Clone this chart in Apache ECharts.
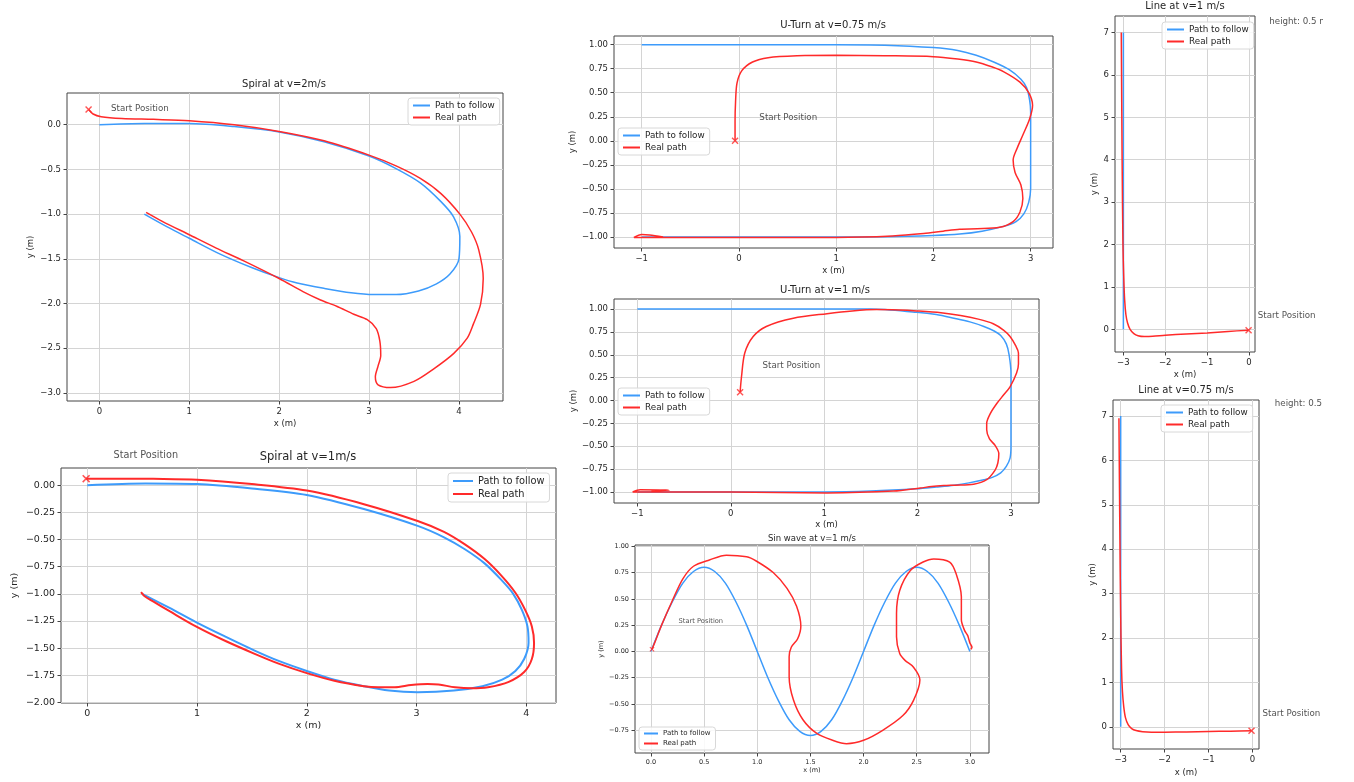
<!DOCTYPE html>
<html>
<head>
<meta charset="utf-8">
<title>Path following tests</title>
<script src="https://cdn.jsdelivr.net/npm/echarts@6/dist/echarts.min.js"></script>
<style>
  html, body { margin: 0; padding: 0; background: #fff; }
  #chart { width: 1323px; height: 782px; }
</style>
</head>
<body>
<div id="chart"></div>
<script>
// paths, [x, y] in metres

// spiral at v=2m/s
var spiral2Path = [[0,0],[0.5,0.015],[1,0.015],[1.5,-0.02],[2,-0.08],[2.5,-0.19],[3,-0.35],[3.3,-0.49],[3.57,-0.65],
    [3.8,-0.86],[3.94,-1.03],[4.01,-1.25],[4.0,-1.5],[3.9,-1.67],[3.75,-1.78],[3.55,-1.86],[3.3,-1.9],[3.05,-1.9],
    [2.8,-1.88],[2.5,-1.83],[2.2,-1.77],[2.0,-1.71],[1.7,-1.6],[1.35,-1.45],[1.0,-1.27],[0.75,-1.14],[0.5,-1.0]];
var spiral2Real = [[-0.12,0.17],[-0.07,0.12],[0.02,0.09],[0.25,0.07],[0.6,0.06],[1,0.045],[1.5,0.0],[2,-0.075],
    [2.5,-0.18],[3,-0.34],[3.3,-0.46],[3.57,-0.6],[3.8,-0.77],[4.01,-1.0],[4.14,-1.2],[4.22,-1.4],[4.27,-1.72],
    [4.24,-2.01],[4.16,-2.23],[4.09,-2.39],[3.94,-2.56],[3.72,-2.73],[3.5,-2.87],[3.24,-2.94],[3.1,-2.91],[3.07,-2.82],
    [3.1,-2.7],[3.13,-2.58],[3.12,-2.42],[3.08,-2.28],[2.98,-2.18],[2.83,-2.12],[2.64,-2.03],[2.46,-1.96],
    [2.27,-1.87],[2.0,-1.72],[1.6,-1.52],[1.3,-1.38],[1.0,-1.23],[0.7,-1.08],[0.52,-0.98]];

// spiral at v=1m/s
var spiral1Path = [[0,0],[0.53,0.015],[1,0.01],[1.5,-0.03],[2,-0.09],[2.52,-0.22],[3.01,-0.375],[3.25,-0.48],
    [3.44,-0.59],[3.62,-0.72],[3.77,-0.87],[3.88,-1.0],[3.96,-1.15],[4.01,-1.3],[4.02,-1.45],[3.98,-1.6],[3.9,-1.71],
    [3.78,-1.79],[3.6,-1.85],[3.34,-1.89],[3.01,-1.905],[2.75,-1.89],[2.52,-1.85],[2.25,-1.79],[2.0,-1.71],
    [1.75,-1.62],[1.52,-1.52],[1.25,-1.39],[0.99,-1.26],[0.75,-1.13],[0.5,-1.0]];
var spiral1Real = [[-0.01,0.06],[0.3,0.06],[0.6,0.058],[1,0.05],[1.5,0.01],[2,-0.05],[2.52,-0.175],[3.01,-0.33],
    [3.25,-0.43],[3.44,-0.545],[3.62,-0.68],[3.77,-0.83],[3.9,-0.99],[3.99,-1.15],[4.05,-1.3],[4.07,-1.45],
    [4.05,-1.6],[3.98,-1.72],[3.84,-1.81],[3.65,-1.86],[3.5,-1.87],[3.35,-1.86],[3.2,-1.835],[3.1,-1.83],
    [2.95,-1.84],[2.8,-1.86],[2.65,-1.86],[2.52,-1.85],[2.25,-1.8],[2.0,-1.73],[1.75,-1.645],[1.52,-1.55],
    [1.25,-1.43],[0.99,-1.3],[0.75,-1.16],[0.6,-1.07],[0.52,-1.02],[0.49,-0.985]];

// u-turn at v=0.75 m/s
var uturn075Path = [[-1,1],[0,1],[1,1],[1.5,0.995],[2.0,0.97],[2.25,0.94],[2.44,0.89],[2.62,0.82],[2.78,0.74],
    [2.9,0.64],[2.96,0.55],[2.99,0.42],[3.0,0.3],[3.0,0],[3.0,-0.3],[3.0,-0.5],[2.98,-0.64],[2.93,-0.76],
    [2.85,-0.84],[2.72,-0.89],[2.5,-0.94],[2.27,-0.97],[2.0,-0.985],[1.5,-0.998],[1,-1],[0,-1],[-1,-1]];
var uturn075Real = [[-0.04,0],[-0.04,0.2],[-0.035,0.4],[-0.02,0.6],[0.03,0.73],[0.14,0.82],[0.3,0.865],[0.6,0.885],
    [1.0,0.89],[1.5,0.885],[2.0,0.875],[2.25,0.85],[2.44,0.82],[2.6,0.77],[2.72,0.72],[2.89,0.61],[2.98,0.5],
    [3.02,0.37],[2.99,0.23],[2.92,0.06],[2.86,-0.08],[2.82,-0.2],[2.84,-0.33],[2.9,-0.46],[2.92,-0.6],[2.89,-0.74],
    [2.82,-0.84],[2.68,-0.9],[2.45,-0.915],[2.27,-0.92],[2.1,-0.94],[1.9,-0.965],[1.58,-0.99],[1.0,-1.005],
    [0,-1.005],[-0.8,-1.005],[-1.08,-1.005],[-1.0,-0.975],[-0.92,-0.98],[-0.78,-1.0]];

// u-turn at v=1 m/s
var uturn1Path = [[-1,1],[0,1],[1,1],[1.5,1.0],[1.99,0.965],[2.2,0.94],[2.39,0.9],[2.56,0.86],[2.71,0.81],
    [2.82,0.76],[2.89,0.71],[2.95,0.62],[2.98,0.5],[3.0,0.3],[3.0,-0.5],[2.99,-0.63],[2.95,-0.72],[2.89,-0.79],
    [2.8,-0.84],[2.71,-0.865],[2.55,-0.9],[2.39,-0.925],[2.2,-0.945],[1.99,-0.965],[1.5,-0.99],[1,-1],[-1,-1]];
var uturn1Real = [[0.1,0.09],[0.115,0.26],[0.15,0.52],[0.24,0.7],[0.38,0.81],[0.67,0.9],[1.03,0.95],[1.3,0.98],
    [1.56,0.995],[1.8,0.99],[1.99,0.98],[2.25,0.96],[2.46,0.93],[2.65,0.89],[2.81,0.84],[2.92,0.77],[2.99,0.7],
    [3.05,0.6],[3.08,0.52],[3.08,0.4],[3.06,0.3],[2.99,0.15],[2.92,0.06],[2.85,-0.03],[2.78,-0.14],[2.74,-0.25],
    [2.74,-0.32],[2.77,-0.42],[2.83,-0.49],[2.87,-0.58],[2.86,-0.68],[2.83,-0.76],[2.74,-0.865],[2.6,-0.915],
    [2.4,-0.925],[2.28,-0.93],[2.15,-0.94],[2.03,-0.956],[1.74,-0.99],[1.03,-1.01],[0,-1.0],[-1.05,-1.0],
    [-0.97,-0.975],[-0.66,-0.98],[-0.85,-0.985]];

// sin wave at v=1 m/s
var sinPath = [[0,0],[0.1,0.25],[0.2,0.47],[0.3,0.65],[0.4,0.76],[0.5,0.8],[0.6,0.76],[0.7,0.65],[0.8,0.47],
    [0.9,0.25],[1.0,0],[1.1,-0.25],[1.2,-0.47],[1.3,-0.65],[1.4,-0.76],[1.5,-0.8],[1.6,-0.76],[1.7,-0.65],
    [1.8,-0.47],[1.9,-0.25],[2.0,0],[2.1,0.25],[2.2,0.47],[2.3,0.65],[2.4,0.76],[2.5,0.8],[2.6,0.76],[2.7,0.65],
    [2.8,0.47],[2.9,0.25],[3.0,0]];
var sinReal = [[0.01,0.02],[0.05,0.12],[0.1,0.25],[0.2,0.48],[0.3,0.69],[0.4,0.81],[0.55,0.87],[0.71,0.915],
    [0.9,0.9],[0.99,0.86],[1.15,0.75],[1.28,0.6],[1.37,0.43],[1.41,0.24],[1.38,0.12],[1.32,0.04],[1.3,-0.05],
    [1.3,-0.24],[1.34,-0.46],[1.43,-0.65],[1.56,-0.78],[1.71,-0.845],[1.84,-0.877],[2.0,-0.845],[2.18,-0.75],
    [2.37,-0.61],[2.47,-0.465],[2.53,-0.27],[2.47,-0.15],[2.39,-0.085],[2.34,-0.02],[2.31,0.14],[2.31,0.36],
    [2.34,0.58],[2.44,0.77],[2.56,0.85],[2.66,0.88],[2.81,0.85],[2.87,0.74],[2.92,0.52],[2.92,0.3],[2.95,0.2],
    [2.98,0.15],[3.0,0.08],[3.02,0.04],[3.01,0.02]];

// lines at v=1 and v=0.75 m/s
var line1Path = [[-3,0],[-3,7]];
var line1Real = [[-0.01,-0.02],[-0.5,-0.05],[-1,-0.085],[-1.5,-0.11],[-2,-0.14],[-2.3,-0.165],[-2.5,-0.17],
    [-2.65,-0.15],[-2.75,-0.1],[-2.84,0.0],[-2.9,0.15],[-2.94,0.35],[-2.97,0.7],[-2.99,1.2],[-3.01,2],[-3.03,4],
    [-3.05,7.0]];
var line075Path = [[-3,0],[-3,7]];
var line075Real = [[-0.02,-0.09],[-0.5,-0.1],[-1,-0.105],[-1.5,-0.115],[-2,-0.12],[-2.3,-0.12],[-2.5,-0.11],
    [-2.65,-0.085],[-2.75,-0.04],[-2.83,0.05],[-2.89,0.2],[-2.93,0.45],[-2.96,0.8],[-2.98,1.3],[-3.0,2.5],
    [-3.02,4.5],[-3.04,6.95]];

// tick labels
var spiralXTicks = [0, 1, 2, 3, 4];
var spiral2YTicks = [0, -0.5, -1, -1.5, -2, -2.5, -3];
var spiral1YTicks = [0, -0.25, -0.5, -0.75, -1, -1.25, -1.5, -1.75, -2];
var uturnXTicks = [-1, 0, 1, 2, 3];
var uturnYTicks = [1, 0.75, 0.5, 0.25, 0, -0.25, -0.5, -0.75, -1];
var sinXTicks = [0, 0.5, 1, 1.5, 2, 2.5, 3];
var sinYTicks = [1, 0.75, 0.5, 0.25, 0, -0.25, -0.5, -0.75];
var lineXTicks = [-3, -2, -1, 0];
var lineYTicks = [0, 1, 2, 3, 4, 5, 6, 7];

var BLUE = '#3d9bfb';
var RED = '#ff2a2a';
var INK = '#262626';
var FONT = 'DejaVu Sans';
var CROSS = 'path://M0,1.4L1.4,0L5,3.6L8.6,0L10,1.4L6.4,5L10,8.6L8.6,10L5,6.4L1.4,10L0,8.6L3.6,5Z';

var panels = [
    {title: 'Spiral at v=2m/s', tx: 284, ty: 85, tsize: 10, font: 8.5, lw: 1.5, mark: 7,
     grid: {left: 67, top: 93, width: 436, height: 308},
     x: {min: -0.36, max: 4.49, ticks: spiralXTicks, digits: 0, gap: 18},
     y: {min: -3.09, max: 0.355, ticks: spiral2YTicks, digits: 1, gap: 32},
     legend: {left: 408, top: 98, size: 8.8, iw: 17},
     path: spiral2Path, real: spiral2Real,
     notes: [[0.13, 0.176, 'Start Position']]},
    {title: 'Spiral at v=1m/s', tx: 308, ty: 458, tsize: 11.5, font: 9.5, lw: 2, mark: 8,
     grid: {left: 61, top: 468, width: 495, height: 235},
     x: {min: -0.239, max: 4.27, ticks: spiralXTicks, digits: 0, gap: 18},
     y: {min: -2.005, max: 0.158, ticks: spiral1YTicks, digits: 2, gap: 41},
     legend: {left: 448, top: 473, size: 9.8, iw: 20},
     path: spiral1Path, real: spiral1Real,
     notes: [[0.24, 0.27, 'Start Position']]},
    {title: 'U-Turn at v=0.75 m/s', tx: 833, ty: 26.7, tsize: 10, font: 8.5, lw: 1.5, mark: 7,
     grid: {left: 614, top: 36, width: 439, height: 212},
     x: {min: -1.285, max: 3.23, ticks: uturnXTicks, digits: 0, gap: 18},
     y: {min: -1.115, max: 1.09, ticks: uturnYTicks, digits: 2, gap: 37},
     legend: {left: 618, top: 128, size: 8.8, iw: 17},
     path: uturn075Path, real: uturn075Real,
     notes: [[0.21, 0.24, 'Start Position']]},
    {title: 'U-Turn at v=1 m/s', tx: 825, ty: 291.7, tsize: 10, font: 8.5, lw: 1.5, mark: 7,
     grid: {left: 614, top: 299, width: 425, height: 204},
     x: {min: -1.25, max: 3.30, ticks: uturnXTicks, digits: 0, gap: 17},
     y: {min: -1.12, max: 1.11, ticks: uturnYTicks, digits: 2, gap: 35},
     legend: {left: 618, top: 388, size: 8.8, iw: 17},
     path: uturn1Path, real: uturn1Real,
     notes: [[0.34, 0.38, 'Start Position']]},
    {title: 'Sin wave at v=1 m/s', tx: 812, ty: 539, tsize: 8.5, font: 6.5, lw: 1.5, mark: 5,
     grid: {left: 635, top: 545, width: 354, height: 208},
     x: {min: -0.15, max: 3.18, ticks: sinXTicks, digits: 1, gap: 13},
     y: {min: -0.966, max: 1.012, ticks: sinYTicks, digits: 2, gap: 29},
     legend: {left: 639, top: 727, size: 7, iw: 14},
     path: sinPath, real: sinReal,
     notes: [[0.26, 0.29, 'Start Position']]},
    {title: 'Line at v=1 m/s', tx: 1185, ty: 7.3, tsize: 10, font: 8.5, lw: 1.5, mark: 7,
     grid: {left: 1115, top: 16, width: 140, height: 336},
     x: {min: -3.2, max: 0.143, ticks: lineXTicks, digits: 0, gap: 18},
     y: {min: -0.535, max: 7.39, ticks: lineYTicks, digits: 0, gap: 16},
     legend: {left: 1162, top: 22, size: 8.8, iw: 17},
     path: line1Path, real: line1Real,
     notes: [[0.21, 0.33, 'Start Position'], [0.485, 7.26, 'height: 0.5 m']]},
    {title: 'Line at v=0.75 m/s', tx: 1186, ty: 391.7, tsize: 10, font: 8.5, lw: 1.5, mark: 7,
     grid: {left: 1113, top: 400, width: 146, height: 349},
     x: {min: -3.175, max: 0.15, ticks: lineXTicks, digits: 0, gap: 19},
     y: {min: -0.50, max: 7.36, ticks: lineYTicks, digits: 0, gap: 16},
     legend: {left: 1161, top: 405, size: 8.8, iw: 17},
     path: line075Path, real: line075Real,
     notes: [[0.23, 0.29, 'Start Position'], [0.51, 7.27, 'height: 0.5 m']]}
];

function fmt(digits) {
    return function (v) {
        return Number(v).toFixed(digits).replace('-', '\u2212');
    };
}

function axisFor(p, dim, i) {
    var a = p[dim];
    return {
        type: 'value',
        gridIndex: i,
        min: a.min,
        max: a.max,
        name: dim + ' (m)',
        nameLocation: 'middle',
        nameGap: a.gap,
        nameTextStyle: {fontSize: p.font, color: INK, fontFamily: FONT},
        axisLine: {show: false, onZero: false},
        axisTick: {show: true, length: 3.5, customValues: a.ticks, lineStyle: {color: '#444'}},
        axisLabel: {customValues: a.ticks, fontSize: p.font, color: INK, margin: 6, formatter: fmt(a.digits)},
        splitLine: {show: true, lineStyle: {color: '#d4d4d4', width: 1}}
    };
}

var option = {
    animation: false,
    backgroundColor: '#fff',
    textStyle: {fontFamily: FONT},
    title: [], grid: [], xAxis: [], yAxis: [], legend: [], series: []
};

panels.forEach(function (p, i) {
    option.title.push({
        text: p.title, left: p.tx, top: p.ty - p.tsize * 0.6, textAlign: 'center', padding: 0,
        textStyle: {fontSize: p.tsize, fontWeight: 'normal', color: INK, fontFamily: FONT}
    });
    option.grid.push({
        left: p.grid.left, top: p.grid.top, width: p.grid.width, height: p.grid.height,
        show: true, borderColor: '#444', borderWidth: 1, backgroundColor: '#fff'
    });
    option.xAxis.push(axisFor(p, 'x', i));
    option.yAxis.push(axisFor(p, 'y', i));
    option.legend.push({
        left: p.legend.left, top: p.legend.top, orient: 'vertical', selectedMode: false,
        data: ['Path to follow', 'Real path'],
        icon: 'rect', itemWidth: p.legend.iw, itemHeight: 2, itemGap: 3,
        padding: [3, 5, 3, 5], borderColor: '#d8d8d8', borderWidth: 1, borderRadius: 3,
        backgroundColor: 'rgba(255,255,255,0.85)',
        textStyle: {fontSize: p.legend.size, color: INK, fontFamily: FONT}
    });
    option.series.push({
        name: 'Path to follow', type: 'line', xAxisIndex: i, yAxisIndex: i,
        data: p.path, showSymbol: false, symbol: 'none', smooth: 0.3, color: BLUE,
        lineStyle: {color: BLUE, width: p.lw}, z: 2
    });
    option.series.push({
        name: 'Real path', type: 'line', xAxisIndex: i, yAxisIndex: i,
        data: p.real, showSymbol: false, symbol: 'none', smooth: 0.3, color: RED,
        lineStyle: {color: RED, width: p.lw}, z: 3
    });
    // start marker sits on the first point of the real path
    option.series.push({
        name: 'start', type: 'scatter', xAxisIndex: i, yAxisIndex: i,
        data: [p.real[0]], symbol: CROSS, symbolSize: p.mark,
        itemStyle: {color: RED}, z: 4
    });
    option.series.push({
        name: 'notes', type: 'scatter', xAxisIndex: i, yAxisIndex: i, clip: false,
        data: p.notes.map(function (n) { return {value: [n[0], n[1]], name: n[2]}; }),
        symbolSize: 0, silent: true,
        label: {show: true, position: 'right', distance: 0, formatter: '{b}',
                fontSize: p.font + 0.2, color: INK, fontFamily: FONT},
        z: 5
    });
});

var chart = echarts.init(document.getElementById('chart'));
chart.setOption(option);
</script>
</body>
</html>
